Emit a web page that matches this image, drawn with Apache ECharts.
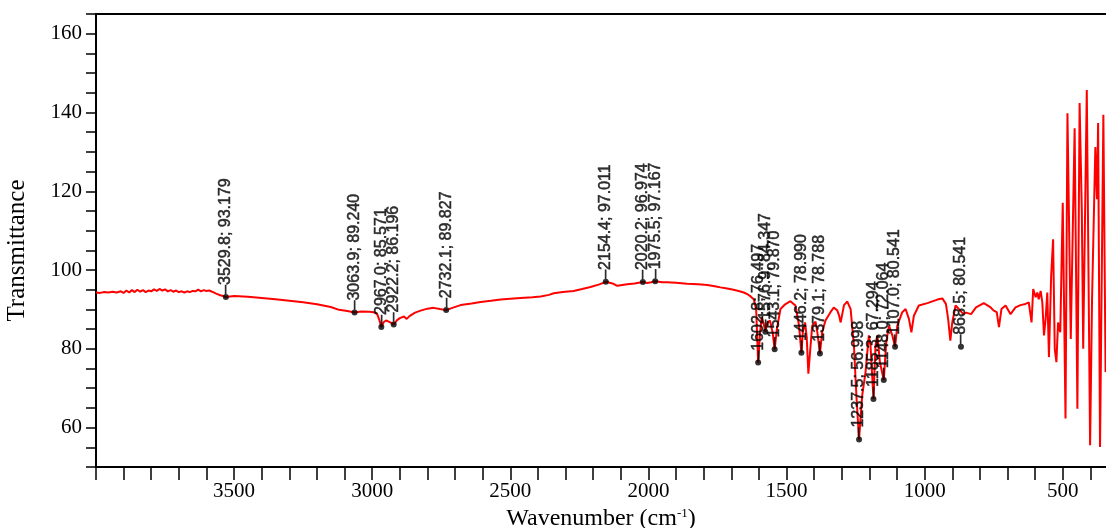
<!DOCTYPE html>
<html>
<head>
<meta charset="utf-8">
<script src="https://cdn.jsdelivr.net/npm/echarts@6/dist/echarts.min.js"></script>
<style>
html,body{margin:0;padding:0;background:#fff;}
#chart{width:1106px;height:528px;}
</style>
</head>
<body>
<div id="chart"></div>
<script>
// Spectrum (wavenumber in cm-1, transmittance)
const wavenumber = [
4000,3985,3970,3955,3940,3925,3910,3900,3890,3880,3870,3860,3850,3840,3830,3820,3810,3800,3790,3780,
3770,3760,3750,3740,3730,3720,3710,3700,3690,3680,3670,3660,3650,3640,3630,3620,3610,3600,3590,3580,
3565,3550,3540,3529.8,3500,3450,3400,3350,3300,3250,3200,3150,3120,3090,3063.9,3040,3010,2995,2982,2975,
2967,2958,2950,2940,2930,2922.2,2910,2900,2885,2875,2865,2845,2825,2800,2778,2755,2732.1,2710,2680,2640,
2608,2570,2535,2500,2463,2420,2390,2360,2343,2310,2271,2240,2210,2180,2154.4,2130,2113,2095,2077,2050,
2020.2,2004,1990,1975.5,1950,1932,1900,1860,1820,1787,1760,1739,1715,1692,1670,1655,1640,1630,1618,1610,
1602.8,1596,1590,1583,1576.9,1570,1560,1550,1543.1,1535,1522,1505,1486,1468,1455,1446.2,1441,1433,1427,1421,
1413,1407,1395,1388,1379.1,1371,1359,1341,1329,1316,1310,1304,1292,1280,1268,1256,1247,1237.5,1226,1214,
1202,1196,1185.3,1178,1171,1162,1148,1139,1129,1117,1107,1099,1081,1069,1057,1048,1039,1021,990,954,
936,923,915,907,900,888,875,860,850,832,814,786,761,750,739,731,722,707,689,683,
671,653,635,623,613,607,598,592,587,580,574,568,562,556,550,542,535,529,523,517,
509,500,490,483,471,457,447,439,431,426,413,401,394,382,376,372,365,353,345,336
];
const transmittance = [
94.3,94.2,94.4,94.3,94.5,94.3,94.6,94.2,94.8,94.3,94.9,94.4,95.0,94.5,94.9,94.4,94.8,94.6,95.1,94.7,
95.2,94.8,95.1,94.6,94.9,94.5,94.8,94.4,94.6,94.3,94.6,94.4,94.7,94.6,95.0,94.6,94.9,94.7,94.8,94.5,
94.0,93.6,93.4,93.179,93.4,93.2,92.9,92.6,92.2,91.8,91.3,90.6,89.9,89.6,89.24,89.5,89.4,89.3,88.8,87.5,
85.571,86.8,87.2,86.9,86.5,86.196,87.3,87.8,88.2,87.6,88.3,89.2,89.7,90.2,90.4,90.1,89.827,90.4,91.1,91.5,
91.9,92.2,92.5,92.7,92.9,93.1,93.3,93.7,94.1,94.4,94.7,95.2,95.7,96.3,97.011,96.6,96.0,96.2,96.4,96.6,
96.974,96.7,96.9,97.167,96.9,96.9,96.8,96.5,96.4,96.2,95.9,95.6,95.3,95.0,94.6,94.3,93.8,93.3,92.5,90.0,
76.497,84.0,88.0,86.5,84.347,86.5,87.2,84.0,79.87,85.0,90.1,91.3,92.1,91.0,86.0,78.99,84.2,86.7,83.0,73.7,
80.8,85.9,86.9,84.0,78.788,84.2,87.2,89.3,90.5,89.7,88.5,86.7,91.1,92.0,90.1,80.8,68.0,56.998,68.2,74.1,
83.4,80.8,67.294,80.8,83.4,76.6,72.064,81.7,85.9,83.4,80.541,85.9,89.3,90.1,87.6,84.2,88.4,91.0,91.6,92.5,
92.8,91.4,87.6,82.1,86.7,91.0,90.0,88.8,89.2,88.8,90.5,91.6,90.5,89.7,89.3,85.5,90.1,91.0,88.8,88.4,
90.5,91.1,91.4,91.8,86.7,95.2,93.1,94.3,92.6,94.7,91.8,83.4,87.6,94.3,77.9,98.5,107.8,80.0,76.6,86.7,
84.2,117.1,62.3,139.8,82.5,136.0,64.8,142.4,115.0,80.0,145.7,55.5,92.6,131.2,118.0,137.3,55.1,139.4,74.1,78.0
];
// Annotated peaks
const peakWavenumber = [3529.8,3063.9,2967.0,2922.2,2732.1,2154.4,2020.2,1975.5,1602.8,1576.9,1543.1,1446.2,1379.1,1237.5,1185.3,1148.0,1107.0,868.5];
const peakValue = [93.179,89.240,85.571,86.196,89.827,97.011,96.974,97.167,76.497,84.347,79.870,78.990,78.788,56.998,67.294,72.064,80.541,80.541];
// Axis tick labels
const xTickLabels = [3500,3000,2500,2000,1500,1000,500];
const yTickLabels = [60,80,100,120,140,160];

const lineData = wavenumber.map((w,i)=>[w,transmittance[i]]);
const peakData = peakWavenumber.map((w,i)=>[w,peakValue[i]]);

const chart = echarts.init(document.getElementById('chart'), null, {renderer:'canvas'});
const serif = '"Liberation Serif","Times New Roman",serif';
chart.setOption({
  animation:false,
  backgroundColor:'#fff',
  grid:{left:96,width:1022,top:14,bottom:61,show:true,borderColor:'#000',borderWidth:2,
    containLabel:false,outerBoundsMode:'none'},
  xAxis:{
    type:'value', inverse:true, min:300, max:4000, interval:100,
    name:'Wavenumber (cm{sup|-1})', nameLocation:'middle', nameGap:35,
    nameTextStyle:{fontFamily:serif,fontSize:24,color:'#000',padding:[0,12,0,0],
      rich:{sup:{fontFamily:serif,fontSize:13,color:'#000',verticalAlign:'top',padding:[0,0,10,0]}}},
    axisLine:{onZero:false,lineStyle:{color:'#000',width:2}},
    axisTick:{inside:false,length:13,lineStyle:{color:'#000',width:1.5}},
    axisLabel:{fontFamily:serif,fontSize:21,color:'#000',margin:14,
      formatter:v=>xTickLabels.indexOf(v)>=0?String(v):''},
    splitLine:{show:false}
  },
  yAxis:{
    type:'value', min:50, max:165, interval:5,
    name:'Transmittance', nameLocation:'middle', nameGap:66,
    nameTextStyle:{fontFamily:serif,fontSize:25,color:'#000',padding:[0,20,0,0]},
    axisLine:{onZero:false,lineStyle:{color:'#000',width:2}},
    axisTick:{inside:false,length:10,lineStyle:{color:'#000',width:1.5}},
    axisLabel:{fontFamily:serif,fontSize:21,color:'#000',margin:14,
      formatter:v=>yTickLabels.indexOf(v)>=0?String(v):''},
    splitLine:{show:false}
  },
  series:[
    {type:'line',data:lineData,symbol:'none',clip:true,
      lineStyle:{color:'#ff0000',width:2},z:2},
    {type:'scatter',data:peakData,symbol:'circle',symbolSize:6,
      itemStyle:{color:'#000'},z:3,
      label:{show:true,position:'top',distance:0,rotate:90,align:'left',verticalAlign:'middle',
        fontFamily:'"Liberation Sans",Arial,sans-serif',fontSize:16,color:'#000',
        textBorderColor:'#000',textBorderWidth:0.5,
        formatter:p=>'\u2013'+p.value[0].toFixed(1)+'; '+p.value[1].toFixed(3)},
      labelLayout:{hideOverlap:false}}
  ]
});
</script>
</body>
</html>
